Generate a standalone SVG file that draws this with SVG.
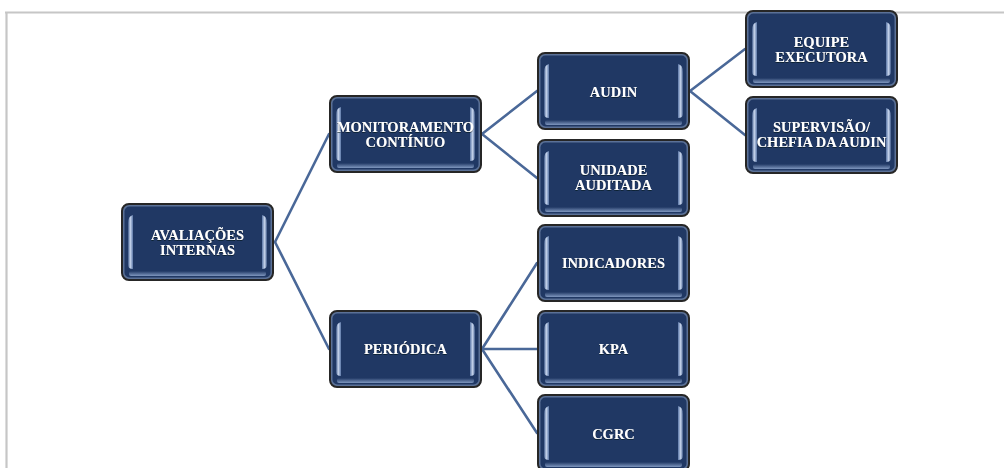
<svg xmlns="http://www.w3.org/2000/svg" width="1004" height="468" viewBox="0 0 1004 468">
<defs>
<style>
.frame{stroke:#c6c6c6;stroke-width:2.2;fill:none}
.con{stroke:#4a6898;stroke-width:2.6;fill:none;stroke-linecap:round}
.t{font-family:"Liberation Serif","Times New Roman",serif;font-weight:bold;font-size:14.5px;fill:#ffffff;text-anchor:middle;filter:url(#sh)}
</style>
<filter id="sh" x="-10%" y="-30%" width="120%" height="160%">
<feDropShadow dx="0" dy="0.8" stdDeviation="0.7" flood-color="#000814" flood-opacity="0.75"/>
</filter>
<linearGradient id="barL" x1="0" y1="0" x2="1" y2="0">
<stop offset="0" stop-color="#3b5686"/>
<stop offset="0.45" stop-color="#c9d7ee"/>
<stop offset="1" stop-color="#5a76a6"/>
</linearGradient>
<linearGradient id="barR" x1="1" y1="0" x2="0" y2="0">
<stop offset="0" stop-color="#3b5686"/>
<stop offset="0.45" stop-color="#c9d7ee"/>
<stop offset="1" stop-color="#5a76a6"/>
</linearGradient>
<linearGradient id="bot" x1="0" y1="0" x2="0" y2="1">
<stop offset="0" stop-color="#203864"/>
<stop offset="1" stop-color="#7f97bf"/>
</linearGradient>
<g id="box">
<rect x="1" y="1" width="151" height="76" rx="7" fill="#5b7197" stroke="#262626" stroke-width="2"/>
<rect x="3.5" y="3.5" width="146" height="71" rx="5" fill="#203864"/>
<rect x="8" y="68" width="137" height="5" rx="2" fill="url(#bot)"/>
<path d="M7 20 Q7 13 12 12 L12 66 Q7 66 7 62 Z" fill="url(#barL)"/>
<path d="M146 20 Q146 13 141 12 L141 66 Q146 66 146 62 Z" fill="url(#barR)"/>
</g>
</defs>
<rect width="1004" height="468" fill="#ffffff"/>
<g id="frame">
<line class="frame" x1="5" y1="12.5" x2="1004" y2="12.5"/>
<line class="frame" x1="6.5" y1="12" x2="6.5" y2="468"/>
</g>
<g id="connectors">
<line class="con" x1="275" y1="242" x2="329" y2="134"/>
<line class="con" x1="275" y1="242" x2="329" y2="349"/>
<line class="con" x1="482" y1="134" x2="537" y2="91"/>
<line class="con" x1="482" y1="134" x2="537" y2="178"/>
<line class="con" x1="690" y1="91" x2="745" y2="49"/>
<line class="con" x1="690" y1="91" x2="745" y2="135"/>
<line class="con" x1="482" y1="349" x2="537" y2="263"/>
<line class="con" x1="482" y1="349" x2="537" y2="349"/>
<line class="con" x1="482" y1="349" x2="537" y2="433"/>
</g>
<g id="avaliacoes">
<use href="#box" x="121" y="203"/>
<text class="t" x="197.5" y="240">AVALIAÇÕES</text>
<text class="t" x="197.5" y="254.5">INTERNAS</text>
</g>
<g id="monitoramento">
<use href="#box" x="329" y="95"/>
<text class="t" x="405.5" y="132">MONITORAMENTO</text>
<text class="t" x="405.5" y="146.5">CONTÍNUO</text>
</g>
<g id="periodica">
<use href="#box" x="329" y="310"/>
<text class="t" x="405.5" y="354">PERIÓDICA</text>
</g>
<g id="audin">
<use href="#box" x="537" y="52"/>
<text class="t" x="613.5" y="97">AUDIN</text>
</g>
<g id="unidade">
<use href="#box" x="537" y="139"/>
<text class="t" x="613.5" y="175">UNIDADE</text>
<text class="t" x="613.5" y="189.5">AUDITADA</text>
</g>
<g id="indicadores">
<use href="#box" x="537" y="224"/>
<text class="t" x="613.5" y="268">INDICADORES</text>
</g>
<g id="kpa">
<use href="#box" x="537" y="310"/>
<text class="t" x="613.5" y="354">KPA</text>
</g>
<g id="cgrc">
<use href="#box" x="537" y="394"/>
<text class="t" x="613.5" y="439">CGRC</text>
</g>
<g id="equipe">
<use href="#box" x="745" y="10"/>
<text class="t" x="821.5" y="47">EQUIPE</text>
<text class="t" x="821.5" y="61.5">EXECUTORA</text>
</g>
<g id="supervisao">
<use href="#box" x="745" y="96"/>
<text class="t" x="821.5" y="132">SUPERVISÃO/</text>
<text class="t" x="821.5" y="146.5">CHEFIA DA AUDIN</text>
</g>
</svg>
